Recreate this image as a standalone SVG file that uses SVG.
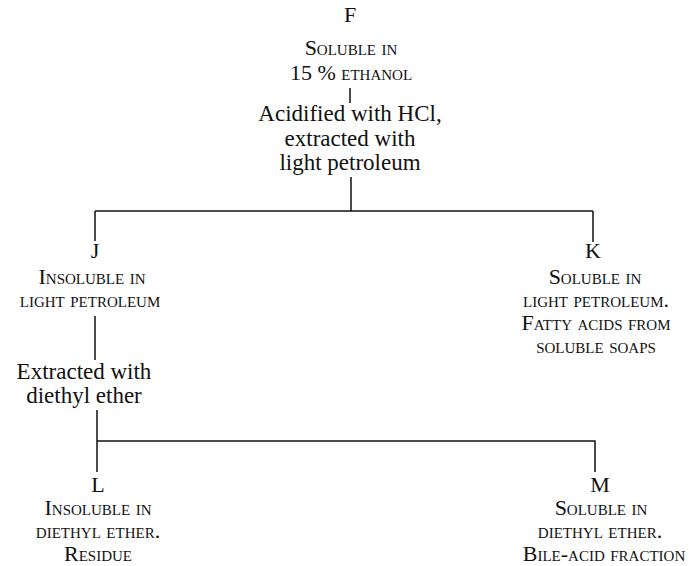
<svg xmlns="http://www.w3.org/2000/svg" width="690" height="566" viewBox="0 0 690 566">
<style>
text{font-family:"Liberation Serif","Times New Roman",serif;font-size:23px;fill:#111;text-anchor:middle}
.sc{font-variant:small-caps;font-size:22px}
.id{font-size:22px}
.ln{stroke:#111;stroke-width:1.5;fill:none}
</style>
<rect width="690" height="566" fill="#fff"/>
<g id="connectors">
<path class="ln" d="M350 88V103"/>
<path class="ln" d="M351 177V211M95 211H593M95 211V241M593 211V242"/>
<path class="ln" d="M95 316V360"/>
<path class="ln" d="M97 410V472M97 441H595V472"/>
</g>
<g id="F">
<text class="id" x="350" y="22">F</text>
<text class="sc" x="351" y="55">Soluble in</text>
<text class="sc" x="351" y="80">15 % ethanol</text>
</g>
<g id="step1">
<text x="350" y="121">Acidified with HCl,</text>
<text x="350" y="146">extracted with</text>
<text x="350" y="170">light petroleum</text>
</g>
<g id="J">
<text class="id" x="95" y="258">J</text>
<text class="sc" x="92" y="284">Insoluble in</text>
<text class="sc" x="90" y="307">light petroleum</text>
</g>
<g id="K">
<text class="id" x="593" y="258">K</text>
<text class="sc" x="595" y="284">Soluble in</text>
<text class="sc" x="596" y="307">light petroleum.</text>
<text class="sc" x="596" y="330">Fatty acids from</text>
<text class="sc" x="596" y="353">soluble soaps</text>
</g>
<g id="step2">
<text x="84" y="379">Extracted with</text>
<text x="84" y="403">diethyl ether</text>
</g>
<g id="L">
<text class="id" x="98" y="492">L</text>
<text class="sc" x="98" y="515">Insoluble in</text>
<text class="sc" x="98" y="538">diethyl ether.</text>
<text class="sc" x="98" y="561">Residue</text>
</g>
<g id="M">
<text class="id" x="600" y="492">M</text>
<text class="sc" x="601" y="515">Soluble in</text>
<text class="sc" x="600" y="538">diethyl ether.</text>
<text class="sc" x="604" y="561">Bile-acid fraction</text>
</g>
</svg>
